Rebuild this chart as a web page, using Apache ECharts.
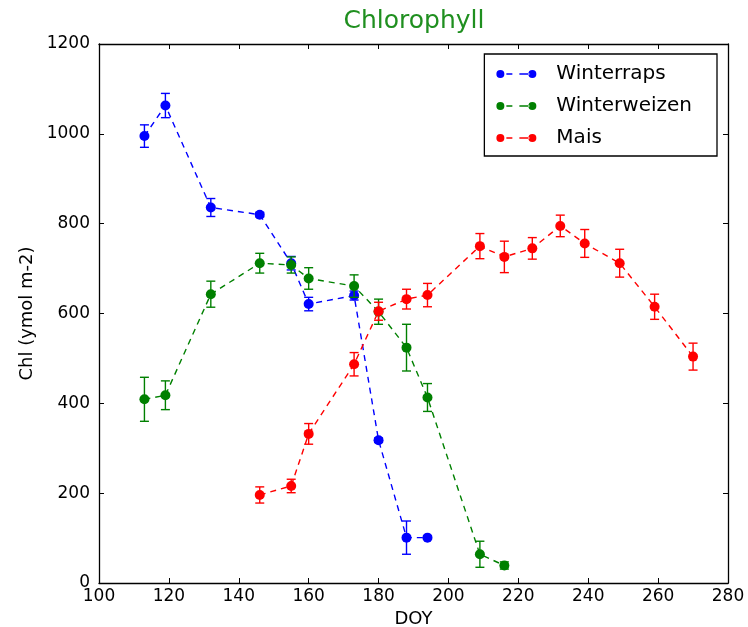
<!DOCTYPE html>
<html>
<head>
<meta charset="utf-8">
<script src="https://cdn.jsdelivr.net/npm/echarts@6/dist/echarts.min.js"></script>
<style>
  html, body { margin: 0; padding: 0; background: #ffffff; }
  #chart { width: 748px; height: 627px; }
</style>
</head>
<body>
<div id="chart"></div>
<script>
// Chlorophyll nach DOY, Mittelwert +/- Fehler
var xTicks = [100, 120, 140, 160, 180, 200, 220, 240, 260, 280];
var yTicks = [0, 200, 400, 600, 800, 1000, 1200];

var rapsDoy = [113, 119, 132, 146, 155, 160, 173, 180, 188, 194];
var rapsChl = [995, 1063, 836, 820, 712, 621, 640, 318, 101, 101];
var rapsErr = [25, 27, 20, 5, 15, 15, 10, 5, 37, 3];

var weizenDoy = [113, 119, 132, 146, 155, 160, 173, 180, 188, 194, 209, 216];
var weizenChl = [409, 418, 643, 712, 708, 678, 661, 604, 524, 413, 64, 39];
var weizenErr = [49, 32, 29, 22, 18, 24, 25, 28, 52, 31, 29, 8];

var maisDoy = [146, 155, 160, 173, 180, 188, 194, 209, 216, 224, 232, 239, 249, 259, 270];
var maisChl = [196, 216, 332, 487, 605, 632, 641, 750, 726, 745, 795, 756, 712, 615, 504];
var maisErr = [18, 15, 23, 26, 20, 22, 26, 28, 35, 24, 24, 31, 31, 28, 30];

var names = ['Winterraps', 'Winterweizen', 'Mais'];
var colors = ['#0000ff', '#008000', '#ff0000'];

function toPoints(doy, chl, err) {
    var out = [];
    for (var i = 0; i < doy.length; i++) {
        out.push([doy[i], chl[i], err[i]]);
    }
    return out;
}

var allData = [
    toPoints(rapsDoy, rapsChl, rapsErr),
    toPoints(weizenDoy, weizenChl, weizenErr),
    toPoints(maisDoy, maisChl, maisErr)
];

function errorBar(color) {
    return function (params, api) {
        var x = api.value(0), y = api.value(1), e = api.value(2);
        var top = api.coord([x, y + e]);
        var bot = api.coord([x, y - e]);
        var hw = 4.5;
        var st = { stroke: color, lineWidth: 1.4 };
        return {
            type: 'group',
            children: [
                { type: 'line', shape: { x1: top[0], y1: top[1], x2: bot[0], y2: bot[1] }, style: st },
                { type: 'line', shape: { x1: top[0] - hw, y1: top[1], x2: top[0] + hw, y2: top[1] }, style: st },
                { type: 'line', shape: { x1: bot[0] - hw, y1: bot[1], x2: bot[0] + hw, y2: bot[1] }, style: st }
            ]
        };
    };
}

// Legendensymbol wie bei matplotlib: Punkt - - Punkt
var legendIcon = 'path://M0,4A4,4 0 1,0 8,4A4,4 0 1,0 0,4Z' +
    'M10,3.3L16,3.3L16,4.7L10,4.7Z' +
    'M23,3.3L33,3.3L33,4.7L23,4.7Z' +
    'M32,4A4,4 0 1,0 40,4A4,4 0 1,0 32,4Z';

var series = [];
for (var k = 0; k < 3; k++) {
    series.push({
        name: names[k] + ' err',
        type: 'custom',
        renderItem: errorBar(colors[k]),
        data: allData[k],
        encode: { x: 0, y: 1 },
        z: 2 + k * 2,
        silent: true
    });
    series.push({
        name: names[k],
        type: 'line',
        data: allData[k],
        symbol: 'circle',
        symbolSize: 10,
        color: colors[k],
        lineStyle: { type: [6, 5], width: 1.4, color: colors[k] },
        itemStyle: { color: colors[k] },
        z: 3 + k * 2
    });
}

var tickFont = { fontFamily: 'DejaVu Sans', fontSize: 17, color: '#000' };
var nameFont = { fontFamily: 'DejaVu Sans', fontSize: 18, color: '#000' };
var plain = function (v) { return String(v); };

var myChart = echarts.init(document.getElementById('chart'));
var option = {
    backgroundColor: '#ffffff',
    animation: false,
    title: {
        text: 'Chlorophyll',
        left: 409,
        textAlign: 'center',
        top: 4,
        textStyle: { color: '#1f8f1f', fontFamily: 'DejaVu Sans', fontSize: 25, fontWeight: 'normal' }
    },
    grid: { left: 99, right: 20, top: 44, bottom: 44, outerBoundsMode: 'none', containLabel: false },
    legend: {
        data: names,
        orient: 'vertical',
        right: 31,
        top: 54,
        padding: [10, 25, 8, 12],
        itemWidth: 40,
        itemHeight: 8,
        itemGap: 12,
        icon: legendIcon,
        backgroundColor: '#ffffff',
        borderColor: '#000',
        borderWidth: 1.3,
        borderRadius: 0,
        textStyle: { fontFamily: 'DejaVu Sans', fontSize: 20, color: '#000', padding: [0, 0, 0, 15] }
    },
    xAxis: [
        {
            type: 'value',
            min: xTicks[0],
            max: xTicks[xTicks.length - 1],
            interval: 20,
            name: 'DOY',
            nameLocation: 'middle',
            nameGap: 26,
            nameTextStyle: nameFont,
            axisLine: { show: true, onZero: false, lineStyle: { color: '#000', width: 1.3 } },
            axisTick: { inside: true, length: 5, lineStyle: { color: '#000' } },
            axisLabel: Object.assign({ margin: 5, formatter: plain }, tickFont),
            splitLine: { show: false }
        },
        {
            type: 'value',
            position: 'top',
            min: xTicks[0],
            max: xTicks[xTicks.length - 1],
            interval: 20,
            axisLine: { show: true, onZero: false, lineStyle: { color: '#000', width: 1.3 } },
            axisTick: { inside: true, length: 5, lineStyle: { color: '#000' } },
            axisLabel: { show: false },
            splitLine: { show: false }
        }
    ],
    yAxis: [
        {
            type: 'value',
            min: yTicks[0],
            max: yTicks[yTicks.length - 1],
            interval: 200,
            name: 'Chl (ymol m-2)',
            nameLocation: 'middle',
            nameGap: 62,
            nameTextStyle: nameFont,
            axisLine: { show: true, onZero: false, lineStyle: { color: '#000', width: 1.3 } },
            axisTick: { show: true, inside: true, length: 5, lineStyle: { color: '#000' } },
            axisLabel: Object.assign({ margin: 9, formatter: plain }, tickFont),
            splitLine: { show: false }
        },
        {
            type: 'value',
            position: 'right',
            min: yTicks[0],
            max: yTicks[yTicks.length - 1],
            interval: 200,
            axisLine: { show: true, onZero: false, lineStyle: { color: '#000', width: 1.3 } },
            axisTick: { show: true, inside: true, length: 5, lineStyle: { color: '#000' } },
            axisLabel: { show: false },
            splitLine: { show: false }
        }
    ],
    series: series
};
myChart.setOption(option);
</script>
</body>
</html>
